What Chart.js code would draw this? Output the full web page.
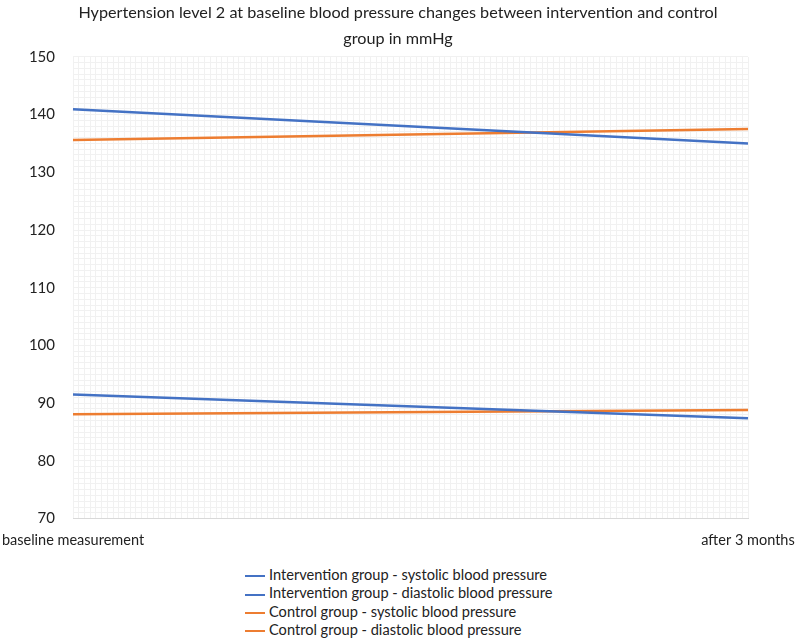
<!DOCTYPE html>
<html>
<head>
<meta charset="utf-8">
<script src="https://cdn.jsdelivr.net/npm/chart.js@4.4.0/dist/chart.umd.min.js"></script>
<style>
  body { margin: 0; background: #fff; font-family: Lato, "Liberation Sans", sans-serif; }
  #wrap { position: relative; width: 796px; height: 558px; }
  #legend { position: absolute; left: 245px; top: 566px; font-size: 14.6px; color: #222; }
  #legend div { height: 18.3px; line-height: 18px; white-space: nowrap; }
  #legend span.ln { display: inline-block; width: 20px; height: 2px; vertical-align: middle; margin-right: 4px; }
</style>
</head>
<body>
<div id="wrap"><canvas id="bpChart"></canvas></div>
<div id="legend"></div>
<script>
// categories and series (mmHg)
const categories = ['baseline measurement', 'after 3 months'];
const intervSystolic = [140.9, 135.0];
const intervDiastolic = [91.5, 87.4];
const controlSystolic = [135.6, 137.5];
const controlDiastolic = [88.1, 88.8];
const yMin = 70, yMax = 150, yStep = 10;

const BLUE = '#4472c4';
const ORANGE = '#ed7d31';
const GRID = '#f1f1f1';

function series(label, data, color) {
  return {
    label: label, data: data, borderColor: color, backgroundColor: color,
    borderWidth: 2.5, pointRadius: 0, tension: 0, xAxisID: 'x', yAxisID: 'y'
  };
}

const ctx = document.getElementById('bpChart').getContext('2d');
const chart = new Chart(ctx, {
  type: 'line',
  data: {
    labels: categories,
    datasets: [
      series('Intervention group - systolic blood pressure', intervSystolic, BLUE),
      series('Intervention group - diastolic blood pressure', intervDiastolic, BLUE),
      series('Control group - systolic blood pressure', controlSystolic, ORANGE),
      series('Control group - diastolic blood pressure', controlDiastolic, ORANGE)
    ]
  },
  options: {
    responsive: true,
    maintainAspectRatio: false,
    animation: false,
    layout: { padding: { left: 0, right: 0, top: 0, bottom: 4 } },
    scales: {
      x: {
        type: 'category', offset: false,
        grid: { display: false },
        border: { display: true, color: '#d9d9d9' },
        ticks: { color: '#222', font: { family: 'Lato', size: 14.5 }, maxRotation: 0, padding: 5 },
        afterFit: s => { s.paddingLeft = 73; s.paddingRight = 48; }
      },
      y: {
        min: yMin, max: yMax,
        grid: { display: false },
        border: { display: false },
        ticks: { stepSize: yStep, color: '#222', font: { family: 'Lato', size: 15 }, padding: 10 },
        afterFit: s => { s.width = 73; }
      },
      // faint minor grid, like the sheet's minor gridlines
      xg: {
        type: 'linear', position: 'top', min: 0, max: 118,
        ticks: { display: false, stepSize: 1 },
        grid: { color: GRID, drawTicks: false },
        border: { display: false }
      },
      yg: {
        type: 'linear', position: 'right', min: yMin, max: yMax,
        ticks: { display: false, stepSize: 1 },
        grid: { color: GRID, drawTicks: false },
        border: { display: false }
      }
    },
    plugins: {
      legend: { display: false },
      tooltip: { enabled: false },
      title: {
        display: true,
        text: ['Hypertension level 2 at baseline blood pressure changes between intervention and control', 'group in mmHg'],
        color: '#222',
        font: { family: 'Lato', size: 16.2, weight: 'normal', lineHeight: 1.6 },
        padding: { top: 0, bottom: 5 }
      }
    }
  }
});

// legend list, one entry per row
const legendBox = document.getElementById('legend');
chart.data.datasets.forEach(ds => {
  const row = document.createElement('div');
  row.innerHTML = '<span class="ln" style="background:' + ds.borderColor + '"></span>' + ds.label;
  legendBox.appendChild(row);
});
</script>
</body>
</html>
